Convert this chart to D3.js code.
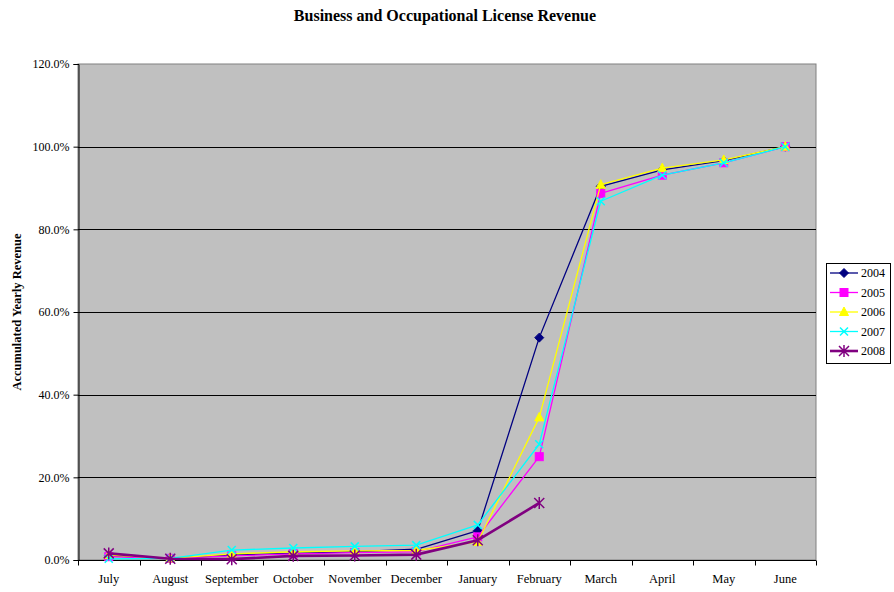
<!DOCTYPE html>
<html>
<head>
<meta charset="utf-8">
<script src="https://cdnjs.cloudflare.com/ajax/libs/d3/7.8.5/d3.min.js"></script>
<style>
  html, body { margin: 0; padding: 0; background: #fff; }
  svg { display: block; }
  text { font-family: "Liberation Serif", "Times New Roman", serif; }
</style>
</head>
<body>
<svg id="chart" width="894" height="592"></svg>
<script>
// Month categories (fiscal year July–June)
const months = ["July", "August", "September", "October", "November", "December",
                "January", "February", "March", "April", "May", "June"];

// Accumulated share of yearly revenue, in percent
const rev2004 = [1.0, 0.4, 1.2, 1.6, 2.0, 2.6, 7.1, 53.8, 90.4, 94.4, 96.6, 100];
const rev2005 = [0.8, 0.4, 1.0, 1.5, 1.8, 2.0, 5.6, 25.0, 88.7, 93.1, 96.1, 100];
const rev2006 = [1.2, 0.4, 1.5, 2.0, 2.2, 2.3, 4.4, 34.5, 90.8, 94.8, 96.8, 100];
const rev2007 = [0.3, 0.4, 2.4, 2.9, 3.3, 3.6, 8.5, 28.0, 86.8, 93.1, 96.1, 100];
const rev2008 = [1.6, 0.3, 0.2, 1.0, 1.1, 1.3, 4.8, 13.8];

const years = ["2004", "2005", "2006", "2007", "2008"];
const yTicks = [0, 20, 40, 60, 80, 100, 120];

const seriesValues = [rev2004, rev2005, rev2006, rev2007, rev2008];
const colors = ["#000080", "#FF00FF", "#FFFF00", "#00FFFF", "#800080"];
const markers = ["diamond", "square", "triangle", "x", "star"];
const widths = [1.3, 1.3, 1.3, 1.3, 2.6];

const svg = d3.select("#chart");
const margin = { left: 78, right: 816, top: 64, bottom: 560 };

const x = d3.scaleBand().domain(months).range([margin.left, margin.right]);
const y = d3.scaleLinear().domain([0, 120]).range([margin.bottom, margin.top]);

// Plot area
svg.append("rect")
  .attr("x", margin.left).attr("y", margin.top)
  .attr("width", margin.right - margin.left).attr("height", margin.bottom - margin.top)
  .attr("fill", "#C0C0C0").attr("stroke", "#808080").attr("stroke-width", 1);

// Horizontal gridlines
svg.append("g").selectAll("line")
  .data(yTicks.filter(d => d > 0 && d < 120))
  .join("line")
  .attr("x1", margin.left).attr("x2", margin.right)
  .attr("y1", d => Math.round(y(d)) + 0.5).attr("y2", d => Math.round(y(d)) + 0.5)
  .attr("stroke", "#000").attr("stroke-width", 1);

// Y axis
const yAxis = d3.axisLeft(y).tickValues(yTicks).tickSize(5).tickPadding(4)
  .tickFormat(d => d.toFixed(1) + "%");
const gy = svg.append("g").attr("transform", `translate(${margin.left + 0.5},0)`).call(yAxis);
gy.select(".domain").attr("stroke", "#000");
gy.selectAll(".tick line").attr("stroke", "#000");
gy.selectAll(".tick text").attr("font-size", 12).attr("fill", "#000")
  .attr("font-family", "Liberation Serif");

// X axis with ticks on category boundaries
const gx = svg.append("g").attr("transform", `translate(0,${margin.bottom + 0.5})`);
gx.append("line").attr("x1", margin.left).attr("x2", margin.right)
  .attr("stroke", "#000");
const bounds = d3.range(months.length + 1).map(i => margin.left + i * x.step());
gx.selectAll(".tk").data(bounds).join("line").attr("class", "tk")
  .attr("x1", d => Math.round(d) + 0.5).attr("x2", d => Math.round(d) + 0.5)
  .attr("y1", 0).attr("y2", 5).attr("stroke", "#000");
gx.selectAll(".lbl").data(months).join("text").attr("class", "lbl")
  .attr("x", d => x(d) + x.bandwidth() / 2).attr("y", 22)
  .attr("text-anchor", "middle").attr("font-size", 12.5).attr("fill", "#000")
  .text(d => d);

// Title
svg.append("text").attr("x", 445).attr("y", 21).attr("text-anchor", "middle")
  .attr("font-size", 16).attr("font-weight", "bold").text("Business and Occupational License Revenue");

// Y axis title
svg.append("text").attr("transform", "translate(21,312) rotate(-90)")
  .attr("text-anchor", "middle").attr("font-size", 12.5).attr("font-weight", "bold")
  .text("Accumulated Yearly Revenue");

// Marker drawing
function drawMarker(g, type, color, cx, cy) {
  if (type === "diamond") {
    g.append("path").attr("d", `M${cx},${cy - 4.5}L${cx + 4.5},${cy}L${cx},${cy + 4.5}L${cx - 4.5},${cy}Z`)
      .attr("fill", color).attr("stroke", color);
  } else if (type === "square") {
    g.append("rect").attr("x", cx - 4).attr("y", cy - 4).attr("width", 8).attr("height", 8)
      .attr("fill", color).attr("stroke", color);
  } else if (type === "triangle") {
    g.append("path").attr("d", `M${cx},${cy - 5}L${cx + 4.5},${cy + 3.5}L${cx - 4.5},${cy + 3.5}Z`)
      .attr("fill", color).attr("stroke", color);
  } else if (type === "x") {
    g.append("path").attr("d", `M${cx - 4},${cy - 4}L${cx + 4},${cy + 4}M${cx - 4},${cy + 4}L${cx + 4},${cy - 4}`)
      .attr("stroke", color).attr("stroke-width", 1.5).attr("fill", "none");
  } else if (type === "star") {
    g.append("path").attr("d",
      `M${cx - 5},${cy - 5}L${cx + 5},${cy + 5}M${cx - 5},${cy + 5}L${cx + 5},${cy - 5}M${cx},${cy - 6}L${cx},${cy + 6}`)
      .attr("stroke", color).attr("stroke-width", 1.5).attr("fill", "none");
  }
}

const line = d3.line().x((d, i) => x(months[i]) + x.bandwidth() / 2).y(d => y(d));

// Series lines and markers
seriesValues.forEach((vals, s) => {
  const g = svg.append("g");
  g.append("path").datum(vals).attr("d", line)
    .attr("fill", "none").attr("stroke", colors[s]).attr("stroke-width", widths[s])
    .attr("stroke-linejoin", "round");
  vals.forEach((v, i) => drawMarker(g, markers[s], colors[s], x(months[i]) + x.bandwidth() / 2, y(v)));
});

// Legend
const lg = svg.append("g");
lg.append("rect").attr("x", 826.5).attr("y", 263.5).attr("width", 64).attr("height", 100)
  .attr("fill", "#fff").attr("stroke", "#000");
years.forEach((yr, s) => {
  const ly = 273 + s * 19.5;
  lg.append("line").attr("x1", 830).attr("x2", 858).attr("y1", ly).attr("y2", ly)
    .attr("stroke", colors[s]).attr("stroke-width", widths[s]);
  drawMarker(lg, markers[s], colors[s], 844, ly);
  lg.append("text").attr("x", 861).attr("y", ly + 4).attr("font-size", 12).text(yr);
});
</script>
</body>
</html>
